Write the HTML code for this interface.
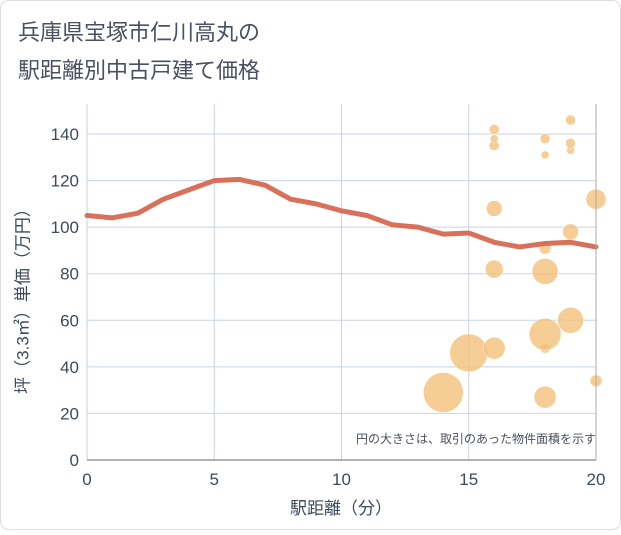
<!DOCTYPE html>
<html><head><meta charset="utf-8"><style>
body{margin:0;background:#fff;font-family:"Liberation Sans","Noto Sans CJK JP",sans-serif;}
#wrap{position:relative;width:621px;height:530px;}
</style></head><body>
<div id="wrap">
<svg id="chart" width="621" height="530" xmlns="http://www.w3.org/2000/svg">
<rect x="0.5" y="0.5" width="620" height="529" rx="8" fill="#fff" stroke="#ddd"/>
<text x="18" y="40" font-size="22" fill="#4a5060">兵庫県宝塚市仁川高丸の</text>
<text x="18" y="78" font-size="22" fill="#4a5060">駅距離別中古戸建て価格</text>
<g id="grid"></g>
<g id="bubbles"></g>
<g id="line"></g>
<g id="axes"></g>
<text x="596" y="443" font-size="12" fill="#4a5060" text-anchor="end">円の大きさは、取引のあった物件面積を示す</text>
<text x="341" y="514" font-size="17" fill="#3d4a5c" text-anchor="middle">駅距離（分）</text>
<text transform="translate(24,297) rotate(-90)" font-size="17" fill="#3d4a5c" text-anchor="middle" dominant-baseline="middle">坪（3.3㎡）単価（万円）</text>
</svg>
</div>
<script>
const xTicks=[0,5,10,15,20];
const yTicks=[0,20,40,60,80,100,120,140];
const lineX=[0,1,2,3,4,5,6,7,8,9,10,11,12,13,14,15,16,17,18,19,20];
const lineY=[105,104,106,112,116,120,120.5,118,112,110,107,105,101,100,97,97.5,93.5,91.5,93,93.5,91.5];
const bubbleX=[14,15,16,16,16,16,16,16,18,18,18,18,18,18,18,19,19,19,19,19,20,20];
const bubbleY=[29,46,48,82,108,135,138,142,27,48,54,81,91,131,138,60,98,133,136,146,112,34];
const bubbleR=[20,19,11,9,8,5,4,5,11,5,16,13,6,4,5,13,8,4,5,5,10,6];
const NS="http://www.w3.org/2000/svg";
const X0=87,X1=596,Y0=460,Y1=134;
const sx=v=>X0+(v-0)/20*(X1-X0);
const sy=v=>Y0-(v/140)*(Y0-Y1);
function mk(t,a,p){const e=document.createElementNS(NS,t);for(const k in a)e.setAttribute(k,a[k]);p.appendChild(e);return e;}
const grid=document.getElementById('grid'),axes=document.getElementById('axes');
yTicks.forEach(v=>{
 const l=mk('line',{x1:X0,x2:X1,y1:sy(v),y2:sy(v),stroke:'#c9d3e3','stroke-width':1},grid);
 
 
 const t=mk('text',{x:X0-8,y:sy(v)+6,'font-size':17,fill:'#3d4a5c','text-anchor':'end'},axes);
 t.textContent=v;
 
 
});
xTicks.forEach(v=>{
 const l=mk('line',{x1:sx(v),x2:sx(v),y1:Y1-30,y2:Y0,stroke:'#c9d3e3','stroke-width':1},grid);
 
 
 const t=mk('text',{x:sx(v),y:Y0+25,'font-size':17,fill:'#3d4a5c','text-anchor':'middle'},axes);
 t.textContent=v;
 
 
});
const ax=mk('line',{x1:X0,x2:X1,y1:Y0,y2:Y0,stroke:'#999','stroke-width':1.5},axes);


const ar=mk('line',{x1:X1,x2:X1,y1:Y1-30,y2:Y0,stroke:'#aaa','stroke-width':1},axes);


const bg=document.getElementById('bubbles');
bubbleX.forEach((x,i)=>{
 const c=mk('circle',{cx:sx(x),cy:sy(bubbleY[i]),r:bubbleR[i],fill:'#f2c07a','fill-opacity':0.8,stroke:'#fff','stroke-width':0.5},bg);
 
 
});
const d=lineX.map((x,i)=>(i?'L':'M')+sx(x)+','+sy(lineY[i])).join(' ');
const p=mk('path',{d:d,fill:'none',stroke:'#d9705a','stroke-width':5,'stroke-linejoin':'round','stroke-linecap':'round'},document.getElementById('line'));


</script>
</body></html>
